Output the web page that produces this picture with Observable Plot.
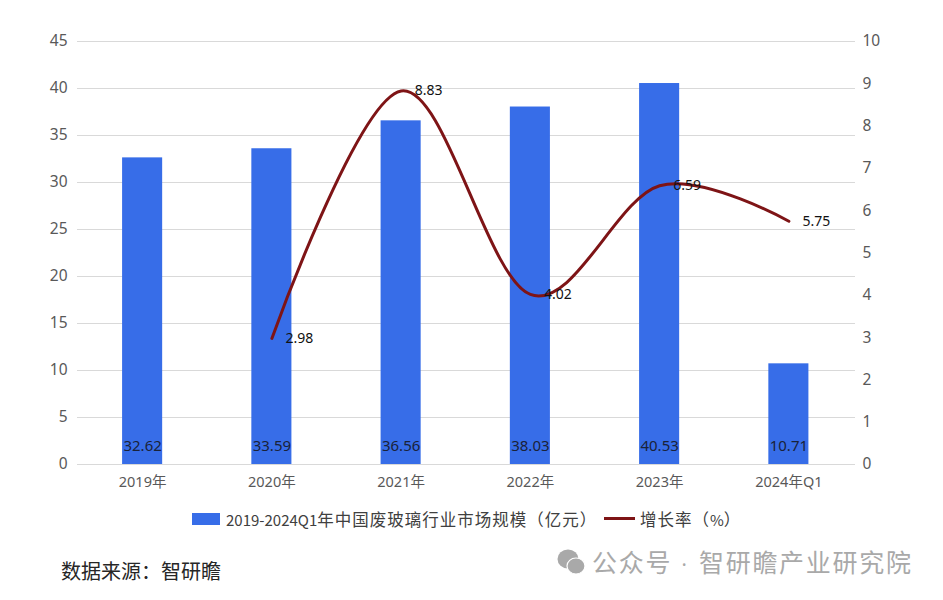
<!DOCTYPE html>
<html><head><meta charset="utf-8">
<script src="https://cdn.jsdelivr.net/npm/d3@7"></script>
<script src="https://cdn.jsdelivr.net/npm/@observablehq/plot@0.6"></script>
<style>
html,body{margin:0;padding:0;background:#fff;width:943px;height:600px;overflow:hidden;font-family:"Noto Sans CJK SC","Noto Sans",sans-serif}
#chart{position:absolute;left:0;top:0}
#legend{position:absolute;left:0;top:508px;width:943px;height:22px;color:#404040;font-size:16.5px;letter-spacing:1px;line-height:22px}
#legend span{position:absolute;white-space:nowrap}
#legend b{font-weight:400;font-size:15px;letter-spacing:0}
#source{position:absolute;left:61px;top:557px;font-size:20px;line-height:28px;color:#262626;white-space:nowrap}
.mark{position:absolute;top:544px;font-size:25px;line-height:34px;color:#a9a9a9;white-space:nowrap;letter-spacing:1.7px}
#wx{position:absolute;left:549px;top:545px}
</style></head><body>
<div id="chart"></div>
<div id="legend">
<span style="left:192px;top:5px;width:28px;height:12px;background:#376de8"></span>
<span style="left:226px"><b>2019-2024Q1</b>年中国废玻璃行业市场规模（亿元）</span>
<span style="left:604px;top:9px;width:31px;height:3px;background:#7e1416"></span>
<span style="left:640px">增长率（<b>%</b>）</span>
</div>
<div id="source">数据来源：智研瞻</div>
<svg id="wx" width="36" height="34" viewBox="0 0 36 34"><ellipse cx="19" cy="14" rx="10.5" ry="9.5" fill="#a9a9a9"/><ellipse cx="27" cy="21" rx="9" ry="8" fill="#a9a9a9" stroke="#fff" stroke-width="1.2"/></svg>
<div class="mark" style="left:592px">公众号 <span style="font-family:'Noto Sans';font-size:20px;letter-spacing:0;margin-left:2px">·</span></div>
<div class="mark" style="left:699px">智研瞻产业研究院</div>
<script>
const years = ["2019年","2020年","2021年","2022年","2023年","2024年Q1"];
const marketSize = [32.62,33.59,36.56,38.03,40.53,10.71];
const rateYears = ["2020年","2021年","2022年","2023年","2024年Q1"];
const growthRate = [2.98,8.83,4.02,6.59,5.75];
const leftTicks = [0,5,10,15,20,25,30,35,40,45];
const rightTicks = [0,1,2,3,4,5,6,7,8,9,10];
const axisRatio = 4.5; // right axis 0–10 is laid over the left axis 0–45

const bars = years.map((y,i)=>({year:y,value:marketSize[i]}));
const rates = rateYears.map((y,i)=>({year:y,rate:growthRate[i]}));
const font = "'Noto Sans','Noto Sans CJK SC',sans-serif";

const plot = Plot.plot({
  width:943, height:490,
  marginLeft:77, marginRight:88, marginTop:41, marginBottom:26,
  style:{background:"#fff",fontFamily:font},
  x:{domain:years,range:[77.5,853],paddingInner:0.69,paddingOuter:0.345,round:false,label:null},
  y:{domain:[0,45],label:null},
  marks:[
    Plot.ruleY(leftTicks,{stroke:"#d9d9d9",strokeWidth:1}),
    Plot.barY(bars,{x:"year",y:"value",fill:"#376de8"}),
    Plot.line(rates,{x:"year",y:d=>d.rate*axisRatio,stroke:"#7e1416",strokeWidth:3,curve:d3.curveCatmullRom.alpha(0)}),
    Plot.text(bars,{x:"year",y:0,text:d=>d.value.toFixed(2),dy:-18,fontSize:15,fill:"#1a2238"}),
    Plot.text(rates,{x:"year",y:d=>d.rate*axisRatio,text:d=>d.rate.toFixed(2),dx:27.5,fontSize:14,fill:"#111"}),
    Plot.axisX({tickSize:0,tickPadding:12,fontSize:14.5,color:"#595959",label:null}),
    Plot.axisY(leftTicks,{anchor:"left",tickSize:0,tickPadding:10,fontSize:15.5,color:"#595959",label:null}),
    Plot.axisY(rightTicks.map(d=>d*axisRatio),{anchor:"right",tickSize:0,tickPadding:7,fontSize:15.5,color:"#595959",label:null,tickFormat:d=>String(Math.round(d/axisRatio))})
  ]
});
document.getElementById("chart").appendChild(plot);
</script>
</body></html>
